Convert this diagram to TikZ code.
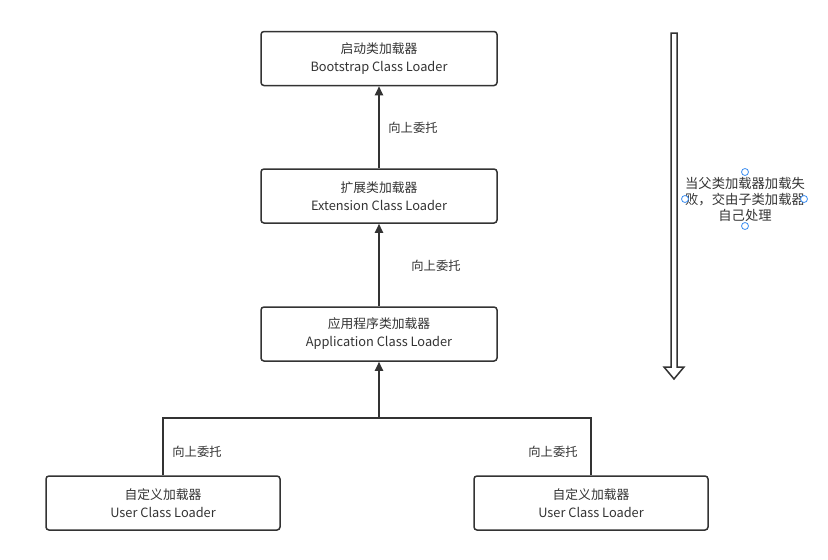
\documentclass[tikz,border=0pt]{standalone}
\usepackage{fontspec}
\setmainfont{Noto Sans CJK SC}
\usetikzlibrary{arrows.meta}
\definecolor{ink}{HTML}{333333}
\definecolor{handle}{HTML}{3D8EF0}
\begin{document}
\begin{tikzpicture}[x=1pt,y=-1pt,
  loader/.style={draw=ink,line width=1.5pt,rounded corners=3pt,minimum width=236pt,minimum height=54pt,align=center,font=\fontsize{12.8}{18}\selectfont,text=ink,inner sep=0pt},
  up/.style={draw=ink,line width=2pt,-{Triangle[length=9pt,width=8pt]}},
  lbl/.style={font=\fontsize{12.3}{14}\selectfont,text=ink,inner sep=0pt},
  hnd/.style={draw=handle,line width=0.8pt,fill=white,circle,minimum size=7pt,inner sep=0pt}]
\useasboundingbox (0,0) rectangle (828,560);
\node[loader] (boot) at (379,58.5) {启动类加载器\\Bootstrap Class Loader};
\node[loader] (ext) at (379,196) {扩展类加载器\\Extension Class Loader};
\node[loader] (app) at (379,334) {应用程序类加载器\\Application Class Loader};
\node[loader,minimum width=234pt] (u1) at (163,503) {自定义加载器\\User Class Loader};
\node[loader,minimum width=234pt] (u2) at (591,503) {自定义加载器\\User Class Loader};
\coordinate (j) at (379,418);
\coordinate (jl) at (u1.north |- j);
\coordinate (jr) at (u2.north |- j);
\draw[up] (ext.north) -- (boot.south);
\draw[up] (app.north) -- (ext.south);
\draw[up] (j) -- (app.south);
\draw[draw=ink,line width=1.5pt] (u1.north) -- (jl) -- (jr) -- (u2.north);
\node[lbl] (l1) at (413,128) {向上委托};
\node[lbl] (l2) at (436,266) {向上委托};
\node[lbl] (l3) at (197,452) {向上委托};
\node[lbl] (l4) at (553,452) {向上委托};
\draw[draw=ink,line width=1.5pt,line join=miter,fill=white]
  (671,33) -- (677,33) -- (677,367) -- (684,367) -- (674,379) -- (664,367) -- (671,367) -- cycle;
\node[lbl,align=center,font=\fontsize{13.3}{16}\selectfont] (note) at (745,199) {当父类加载器加载失\\败，交由子类加载器\\自己处理};
\node[hnd] (h1) at (745,172) {};
\node[hnd] (h2) at (685,199) {};
\node[hnd] (h3) at (804,199) {};
\node[hnd] (h4) at (745,226) {};
\end{tikzpicture}
\end{document}
